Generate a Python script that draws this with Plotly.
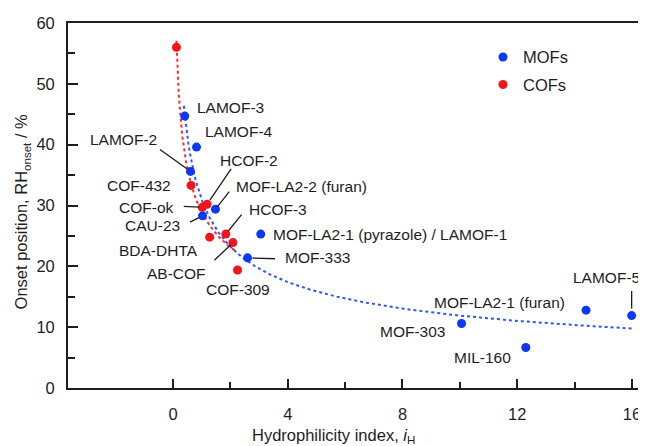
import numpy as np
import plotly.graph_objects as go

# ---------------- data ----------------
mof_names = ["LAMOF-3", "LAMOF-4", "LAMOF-2", "CAU-23", "MOF-LA2-2 (furan)",
             "MOF-LA2-1 (pyrazole) / LAMOF-1", "MOF-333", "MOF-303", "MIL-160",
             "MOF-LA2-1 (furan)", "LAMOF-5"]
mof_x = [0.41, 0.82, 0.61, 1.03, 1.48, 3.06, 2.60, 10.06, 12.30, 14.40, 15.99]
mof_y = [44.7, 39.6, 35.6, 28.3, 29.4, 25.3, 21.4, 10.6, 6.65, 12.8, 11.9]

cof_names = ["", "COF-432", "COF-ok", "HCOF-2", "BDA-DHTA", "HCOF-3", "AB-COF", "COF-309"]
cof_x = [0.12, 0.63, 1.02, 1.19, 1.28, 1.84, 2.09, 2.25]
cof_y = [56.0, 33.3, 29.7, 30.2, 24.8, 25.3, 23.9, 19.4]

# power-law trend lines y = a * x^b (coefficients)
mof_fit_a, mof_fit_b, mof_fit_range = 31.0, -0.416, (0.38, 16.0)
cof_fit_a, cof_fit_b, cof_fit_range = 28.9, -0.321, (0.12, 2.21)

x_major_ticks = [0, 4, 8, 12, 16]
x_minor_ticks = [2, 6, 10, 14]

# ---------------- styles ----------------
BLUE = "#0a38f5"
RED = "#f2141a"
BLUE_LINE = "#2f55ff"
RED_LINE = "#ff2a2a"
INK = "#1e1e1e"
FONT = "Liberation Sans, Arial, sans-serif"

# label placement: name -> (xanchor, xshift px, yshift px)
label_pos = {
    "LAMOF-3": ("left", 10, 9),
    "LAMOF-4": ("left", 6, 16),
    "LAMOF-2": ("right", -31, 32),
    "CAU-23": ("right", -21, -10),
    "MOF-LA2-2 (furan)": ("left", 19, 23),
    "MOF-LA2-1 (pyrazole) / LAMOF-1": ("left", 10, 0),
    "MOF-333": ("left", 35, 0),
    "MOF-303": ("right", -15, -8),
    "MIL-160": ("right", -13, -10),
    "MOF-LA2-1 (furan)": ("right", -19, 8),
    "LAMOF-5": ("center", -25, 38),
    "COF-432": ("right", -18, 0),
    "COF-ok": ("right", -26, 0),
    "HCOF-2": ("left", 11, 44),
    "BDA-DHTA": ("right", -10, -13),
    "HCOF-3": ("left", 21, 25),
    "AB-COF": ("right", -25, -31),
    "COF-309": ("center", 0, -20),
}
# leader lines: name -> (ax px, ay px (down +), standoff px)
leaders = {
    "LAMOF-2": (-32, -23, 4),
    "CAU-23": (-14, 7, 4),
    "MOF-LA2-2 (furan)": (15, -19, 3),
    "MOF-333": (29, 1, 5),
    "LAMOF-5": (0, -26, 7),
    "COF-ok": (-20, -1, 3),
    "HCOF-2": (25, -37, 5),
    "HCOF-3": (17, -21, 4),
    "AB-COF": (-20, 19, 3),
}

fig = go.Figure()

# trend lines
xm = np.linspace(*mof_fit_range, 300)
fig.add_trace(go.Scatter(x=xm, y=mof_fit_a * xm ** mof_fit_b, mode="lines",
                         line=dict(color=BLUE_LINE, width=2, dash="dot"),
                         showlegend=False, hoverinfo="skip"))
xc = np.linspace(*cof_fit_range, 300)
fig.add_trace(go.Scatter(x=xc, y=cof_fit_a * xc ** cof_fit_b, mode="lines",
                         line=dict(color=RED_LINE, width=2, dash="dot"),
                         showlegend=False, hoverinfo="skip"))

fig.add_trace(go.Scatter(x=mof_x, y=mof_y, mode="markers", name="MOFs",
                         text=mof_names, marker=dict(color=BLUE, size=9),
                         legendgroup="a"))
fig.add_trace(go.Scatter(x=cof_x, y=cof_y, mode="markers", name="COFs",
                         text=cof_names, marker=dict(color=RED, size=9),
                         legendgroup="b"))

annotations = []
for names, xs, ys in ((mof_names, mof_x, mof_y), (cof_names, cof_x, cof_y)):
    for n, x, y in zip(names, xs, ys):
        if not n:
            continue
        xa, dx, dy = label_pos[n]
        annotations.append(dict(x=x, y=y, xref="x", yref="y", text=n, showarrow=False,
                                xanchor=xa, yanchor="middle", xshift=dx, yshift=dy,
                                font=dict(family=FONT, size=15.5, color=INK)))
        if n in leaders:
            ax, ay, so = leaders[n]
            annotations.append(dict(x=x, y=y, xref="x", yref="y", text="", showarrow=True,
                                    arrowhead=0, arrowwidth=1.3, arrowcolor=INK,
                                    ax=ax, ay=ay, standoff=so))

annotations.append(dict(x=0.46, y=-0.131, xref="paper", yref="paper",
                        text="Hydrophilicity index, <i>i</i><sub>H</sub>", showarrow=False,
                        xanchor="center", yanchor="middle",
                        font=dict(family=FONT, size=16.5, color=INK)))
annotations.append(dict(x=-0.079, y=0.482, xref="paper", yref="paper", textangle=-90,
                        text="Onset position, RH<sub>onset</sub> / %", showarrow=False,
                        xanchor="center", yanchor="middle",
                        font=dict(family=FONT, size=16.5, color=INK)))

# the page body adds an 8 px offset, so the figure is 8 px smaller and margins shifted
fig.update_layout(
    width=638, height=438,
    margin=dict(l=60, r=0, t=15, b=58),
    paper_bgcolor="white", plot_bgcolor="white",
    font=dict(family=FONT, size=16.5, color=INK),
    annotations=annotations,
    showlegend=True,
    legend=dict(x=0.718, y=0.954, xanchor="left", yanchor="top",
                bgcolor="rgba(0,0,0,0)", font=dict(size=16.5, family=FONT, color=INK),
                tracegroupgap=3, itemwidth=30),
    xaxis=dict(range=[-3.66, 16.49], tickmode="array", tickvals=x_major_ticks,
               ticks="inside", ticklen=9, tickwidth=1.6, tickcolor=INK,
               minor=dict(tickmode="array", tickvals=x_minor_ticks, ticks="inside",
                          ticklen=6, tickwidth=1.6, tickcolor=INK),
               showline=True, linewidth=1.8, linecolor=INK, mirror=True,
               showgrid=False, zeroline=False, ticklabelstandoff=10,
               tickfont=dict(family=FONT, size=16.5, color=INK)),
    yaxis=dict(range=[0, 60], tickmode="linear", tick0=0, dtick=10,
               ticks="inside", ticklen=10, tickwidth=1.6, tickcolor=INK,
               minor=dict(dtick=5, ticks="inside", ticklen=7, tickwidth=1.6, tickcolor=INK),
               showline=True, linewidth=1.8, linecolor=INK,
               showgrid=False, zeroline=False, ticklabelstandoff=8,
               tickfont=dict(family=FONT, size=16.5, color=INK)),
)

fig.write_html("out.html")
